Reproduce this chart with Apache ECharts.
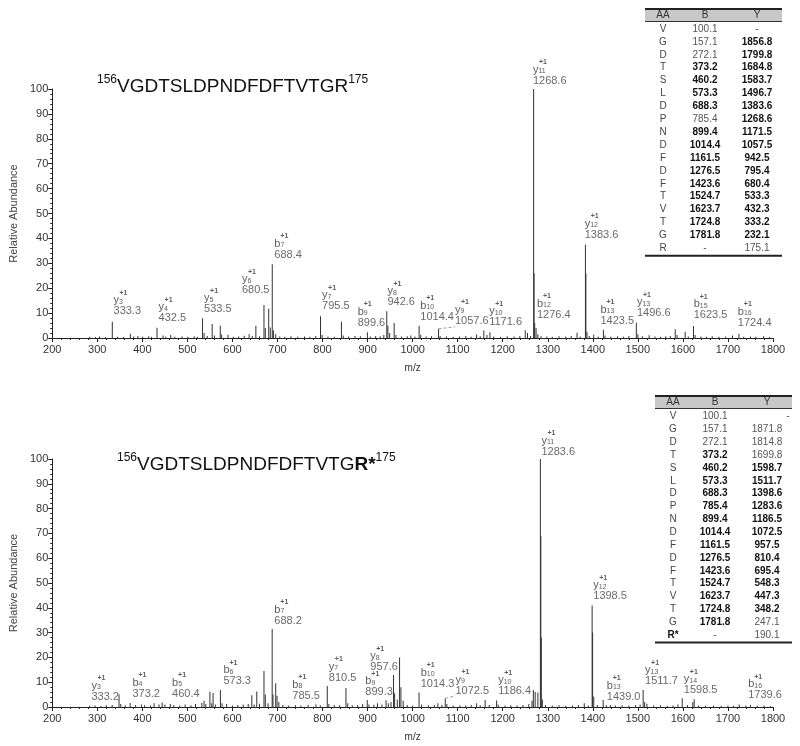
<!DOCTYPE html>
<html lang="en">
<head>
<meta charset="UTF-8">
<title>MS/MS spectra VGDTSLDPNDFDFTVTGR</title>
<script src="https://cdn.jsdelivr.net/npm/echarts@6/dist/echarts.min.js"></script>
<style>
  html, body { margin: 0; padding: 0; background: #fff; }
  #chart { width: 800px; height: 746px; }
</style>
</head>
<body>
<div id="chart"></div>
<script>
// ---- spectrum 1 (unmodified peptide) : [m/z, relative abundance]
var topPeaks = [
  [283,0.5],[296,0.4],[305,0.6],[318,0.4],[333.3,6.5],[345,0.5],[358,0.4],[373.4,1.7],[381,0.6],[390,0.8],
  [401,0.5],[414,0.7],[420,0.5],[432.5,4.1],[446,1.0],[452,0.6],[463,1.2],[472,0.5],[488,0.6],[501,0.5],
  [515,0.7],[522,0.5],[533.5,7.9],[537,2.0],[544,0.8],[555,5.6],[560,1.0],[573,4.9],[576,1.4],[590,1.3],
  [602,0.5],[614,0.6],[626,0.9],[637,1.5],[644,0.8],[652,4.9],[660,0.7],[670,13.3],[673,4],[680.5,11.7],
  [684,4.2],[688.4,29.6],[691,3],[696,1.5],[705,0.6],[716,0.5],[730,0.7],[745,0.5],[760,0.6],[772,0.5],
  [785,0.8],[795.5,8.7],[799,1.2],[812,0.6],[826,0.5],[842,6.5],[846,1.0],[858,0.6],[872,0.8],[884,0.7],
  [899.6,2.3],[906,0.6],[918,0.8],[928,0.7],[936,1.2],[942.6,10.7],[945,5],[949,2],[959,6],[963,1.2],
  [975,0.6],[988,0.7],[996,1.0],[1005,0.6],[1014.4,4.9],[1018,1.3],[1030,0.6],[1042,0.7],[1057.6,3.7],[1061,0.8],
  [1075,0.6],[1090,0.5],[1104,0.6],[1118,0.8],[1130,0.5],[1142,1.4],[1150,0.7],[1158,3.0],[1165,1.2],[1171.6,2.3],
  [1180,0.6],[1195,0.5],[1210,0.7],[1225,0.6],[1238,0.8],[1250,3.1],[1255,2.0],[1262,0.8],[1268.6,100],[1269.6,26],
  [1271,6],[1274,4],[1278,1.5],[1285,0.7],[1298,0.6],[1310,0.5],[1325,0.7],[1340,0.6],[1352,0.8],[1365,2.1],
  [1372,0.6],[1383.6,37.5],[1384.6,26],[1387,2.5],[1392,0.8],[1402,1.3],[1412,0.6],[1423.5,3.3],[1427,1.0],[1440,0.6],
  [1455,0.7],[1468,0.5],[1480,0.8],[1496.6,6.1],[1500,1.5],[1510,0.7],[1525,1.1],[1538,0.6],[1550,0.5],[1562,0.7],
  [1572,0.8],[1583,3.5],[1587,1.2],[1605,2.5],[1612,0.6],[1623.5,4.8],[1627,1.2],[1640,0.6],[1652,0.5],[1665,0.7],
  [1680,0.5],[1695,0.6],[1710,1.0],[1724.4,1.7],[1735,0.5],[1750,0.6],[1762,0.5],[1779,0.7],[1792,0.4]
];
// ---- spectrum 2 (labelled R*)
var botPeaks = [
  [283,0.5],[295,0.6],[308,0.4],[320,0.7],[333,0.8],[348.2,5.1],[352,1.2],[362,0.6],[373,1.6],[385,0.8],
  [398,1.0],[405,0.7],[418,0.6],[426,1.5],[437,1.0],[444,1.8],[450,1.0],[462,1.2],[470,0.8],[483,0.6],
  [495,1.0],[508,0.7],[518,1.2],[532,1.6],[537,2.5],[541,1.2],[550,6.1],[554,1.5],[557,5.6],[562,1.0],
  [573.3,6.9],[577,1.5],[587,1.2],[600,0.6],[612,0.8],[624,1.0],[635,1.2],[643,4.7],[648,1.0],[654,6.3],
  [660,1.3],[670,14.5],[673,5],[679,1.5],[688.2,31.5],[690,5],[696,9.6],[699,4.5],[703,2],[712,0.8],
  [725,0.6],[740,0.7],[752,0.6],[768,0.8],[785.5,1.0],[795,0.7],[810.5,8.5],[814,1.2],[826,0.8],[838,0.7],
  [852,7.7],[856,1.5],[866,0.7],[878,0.8],[889,1.2],[899.3,2.8],[903,1.0],[914,0.9],[922,1.5],[932,1.0],
  [941,2.7],[946,1.5],[952,2],[957.6,12.9],[960,5.5],[966,3],[971,20],[974,8],[979,2.5],[988,0.8],
  [1000,0.6],[1014.3,5.8],[1020,1.0],[1035,0.7],[1048,0.8],[1056,1.5],[1065,0.8],[1072.5,3.5],[1076,1.2],[1090,0.6],
  [1105,0.7],[1118,0.6],[1130,0.8],[1142,1.5],[1150,0.7],[1161,2.8],[1170,0.8],[1186.4,2.6],[1190,1.0],[1205,0.6],
  [1218,0.7],[1232,0.6],[1245,0.8],[1258,1.2],[1265,2.5],[1268,6.9],[1272,6],[1278,5.8],[1283.6,100],[1284.6,69],
  [1285.6,28],[1288,3],[1295,0.8],[1310,0.6],[1325,0.7],[1340,0.5],[1355,0.6],[1368,0.8],[1381,1.5],[1390,0.6],
  [1398.5,40.9],[1399.5,30],[1402,4.2],[1410,0.8],[1423,2.8],[1430,0.7],[1439,0.8],[1450,0.6],[1465,0.7],[1480,0.6],
  [1495,0.8],[1505,1.0],[1511.7,6.9],[1515,2],[1520,1.3],[1535,0.6],[1550,0.7],[1565,0.5],[1578,0.6],[1589,1.0],
  [1598.5,3.5],[1610,0.8],[1622,2],[1625,3.1],[1635,0.6],[1650,0.5],[1668,0.6],[1685,0.5],[1700,0.6],[1712,0.5],
  [1725,1.0],[1740,0.6],[1750,0.8],[1765,0.5],[1780,0.6],[1795,0.4]
];

// ion annotations: [ion, index, m/z text, label m/z, label abundance]
var topIons = [
  ['y','3','333.3',336,8.3], ['y','4','432.5',436,5.5], ['y','5','533.5',537,9.2],
  ['y','6','680.5',621,16.8], ['b','7','688.4',693,31], ['y','7','795.5',799,10.4],
  ['b','9','899.6',878,3.6], ['y','8','942.6',944,12], ['b','10','1014.4',1017,6],
  ['y','9','1057.6',1094,4.6], ['y','10','1171.6',1170,3.9], ['y','11','1268.6',1267,101],
  ['b','12','1276.4',1276,6.9], ['y','12','1383.6',1382,39], ['b','13','1423.5',1417,4.5],
  ['y','13','1496.6',1498,7.6], ['b','15','1623.5',1624,6.8], ['b','16','1724.4',1722,3.6]
];
var botIons = [
  ['y','3','333.2',287,1.7], ['b','4','373.2',378,2.8], ['b','5','460.4',466,2.8],
  ['b','6','573.3',580,8], ['b','7','688.2',693,32.4], ['b','8','785.5',733,2.2],
  ['y','7','810.5',814,9.3], ['b','9','899.3',895,3.6], ['y','8','957.6',906,13.6],
  ['b','10','1014.3',1018,6.9], ['y','9','1072.5',1095,4.2], ['y','10','1186.4',1190,3.9],
  ['y','11','1283.6',1286,100.5], ['y','12','1398.5',1401,42.2], ['b','13','1439.0',1431,1.6],
  ['y','13','1511.7',1516,7.9], ['y','14','1598.5',1602,4.4], ['b','16','1739.6',1745,2.3]
];
var topLeader = [[1057.6,3.7],[1094,4.5]];
var botLeader = [[1072.5,3.5],[1095,4.5]];

// fragment tables
var aaTop = ['V','G','D','T','S','L','D','P','N','D','F','D','F','T','V','T','G','R'];
var bTop = ['100.1','157.1','272.1','373.2','460.2','573.3','688.3','785.4','899.4','1014.4','1161.5','1276.5','1423.6','1524.7','1623.7','1724.8','1781.8','-'];
var yTop = ['-','1856.8','1799.8','1684.8','1583.7','1496.7','1383.6','1268.6','1171.5','1057.5','942.5','795.4','680.4','533.3','432.3','333.2','232.1','175.1'];
var bTopSeen = [0,0,0,1,1,1,1,0,1,1,1,1,1,1,1,1,1,0];
var yTopSeen = [0,1,1,1,1,1,1,1,1,1,1,1,1,1,1,1,1,0];

var aaBot = ['V','G','D','T','S','L','D','P','N','D','F','D','F','T','V','T','G','R*'];
var bBot = ['100.1','157.1','272.1','373.2','460.2','573.3','688.3','785.4','899.4','1014.4','1161.5','1276.5','1423.6','1524.7','1623.7','1724.8','1781.8','-'];
var yBot = ['-','1871.8','1814.8','1699.8','1598.7','1511.7','1398.6','1283.6','1186.5','1072.5','957.5','810.4','695.4','548.3','447.3','348.2','247.1','190.1'];
var bBotSeen = [0,0,0,1,1,1,1,1,1,1,1,1,1,1,1,1,1,0];
var yBotSeen = [0,0,0,0,1,1,1,1,1,1,1,1,1,1,1,1,0,0];

var FONT = '"Liberation Sans", Arial, sans-serif';

function ionData(list) {
  return list.map(function (d) {
    return { value: [d[3], d[4]], ion: d[0], sub: d[1], mass: d[2] };
  });
}

function makeTable(left, topLine, rowTop, rowH, aa, bv, yv, bSeen, ySeen, dashX) {
  var w = 137, els = [];
  var cx = [left + 18, left + 60, left + 112];
  els.push({ type: 'rect', shape: { x: left, y: topLine, width: w, height: 12 }, style: { fill: '#c8c8c8' } });
  els.push({ type: 'line', shape: { x1: left, y1: topLine, x2: left + w, y2: topLine }, style: { stroke: '#222', lineWidth: 2 } });
  els.push({ type: 'line', shape: { x1: left, y1: topLine + 12.5, x2: left + w, y2: topLine + 12.5 }, style: { stroke: '#333', lineWidth: 1 } });
  var bottom = rowTop + rowH * (aa.length - 0.5) + 1;
  els.push({ type: 'line', shape: { x1: left, y1: bottom, x2: left + w, y2: bottom }, style: { stroke: '#222', lineWidth: 2 } });
  ['AA', 'B', 'Y'].forEach(function (h, i) {
    els.push(txt(cx[i], topLine + 6.5, h, false, '#333'));
  });
  aa.forEach(function (a, r) {
    var y = rowTop + r * rowH;
    els.push(txt(cx[0], y, a, a.length > 1, a.length > 1 ? '#111' : '#444'));
    els.push(txt(cx[1], y, bv[r], bSeen[r], bSeen[r] ? '#111' : '#555'));
    var yx = (r === 0 && dashX) ? dashX : cx[2];
    els.push(txt(yx, y, yv[r], ySeen[r], ySeen[r] ? '#111' : '#555'));
  });
  return els;
}

function txt(x, y, s, bold, color) {
  return {
    type: 'text', x: x, y: y,
    style: {
      text: s, fontSize: 10, fontFamily: FONT, fontWeight: bold ? 'bold' : 'normal', fill: color,
      align: 'center', verticalAlign: 'middle', textAlign: 'center', textVerticalAlign: 'middle'
    }
  };
}

var chart = echarts.init(document.getElementById('chart'));

var ionRich = {
  sp: { fontSize: 7, fontWeight: 'bold', lineHeight: 5, padding: [0, 0, 0, 6], color: '#333', fontFamily: FONT },
  ion: { fontSize: 11, lineHeight: 10, color: '#333', fontFamily: FONT },
  sub: { fontSize: 7, lineHeight: 8, verticalAlign: 'bottom', color: '#333', fontFamily: FONT },
  ms: { fontSize: 11, lineHeight: 12, color: '#444', fontFamily: FONT }
};

function xAxisCfg(gi) {
  return {
    gridIndex: gi, type: 'value', min: 200, max: 1800, interval: 100,
    name: 'm/z', nameLocation: 'middle', nameGap: 25,
    nameTextStyle: { fontSize: 10, color: '#333', fontFamily: FONT },
    axisLine: { show: true, onZero: false, lineStyle: { color: '#222', width: 1 } },
    axisTick: { show: true, length: 4, lineStyle: { color: '#222' } },
    minorTick: { show: true, splitNumber: 5, length: 2, lineStyle: { color: '#222' } },
    axisLabel: { fontSize: 11, color: '#333', margin: 6, fontFamily: FONT, formatter: function (v) { return String(v); } },
    splitLine: { show: false }
  };
}
function yAxisCfg(gi) {
  return {
    gridIndex: gi, type: 'value', min: 0, max: 100, interval: 10,
    name: 'Relative Abundance', nameLocation: 'middle', nameGap: 27,
    nameTextStyle: { fontSize: 11, color: '#444', fontFamily: FONT },
    axisLine: { show: true, lineStyle: { color: '#222', width: 1 } },
    axisTick: { show: true, length: 4, lineStyle: { color: '#222' } },
    minorTick: { show: true, splitNumber: 5, length: 2, lineStyle: { color: '#222' } },
    axisLabel: { fontSize: 11, color: '#333', margin: 4, fontFamily: FONT },
    splitLine: { show: false }
  };
}

function peakSeries(gi, data) {
  return {
    type: 'bar', xAxisIndex: gi, yAxisIndex: gi, data: data, barWidth: 1,
    itemStyle: { color: '#333' }, silent: true
  };
}
function labelSeries(gi, list) {
  return {
    type: 'scatter', xAxisIndex: gi, yAxisIndex: gi, data: ionData(list),
    symbolSize: 0, clip: false, silent: true,
    label: {
      show: true, position: [0, 0], align: 'left', verticalAlign: 'bottom',
      formatter: function (p) {
        return '{sp|+1}\n{ion|' + p.data.ion + '}{sub|' + p.data.sub + '}\n{ms|' + p.data.mass + '}';
      },
      rich: ionRich
    }
  };
}
function leaderSeries(gi, pts) {
  return {
    type: 'line', xAxisIndex: gi, yAxisIndex: gi, data: pts, symbol: 'none', silent: true,
    lineStyle: { color: '#999', width: 1, type: [3, 2] }
  };
}

var titleRich = {
  sup: { fontSize: 12, lineHeight: 14, verticalAlign: 'top', fill: '#111', color: '#111', fontFamily: FONT },
  main: { fontSize: 19, lineHeight: 22, verticalAlign: 'bottom', fill: '#111', color: '#111', fontFamily: FONT },
  bold: { fontSize: 19, lineHeight: 22, fontWeight: 'bold', verticalAlign: 'bottom', fill: '#111', color: '#111', fontFamily: FONT }
};

var option = {
  animation: false,
  textStyle: { fontFamily: FONT },
  grid: [
    { left: 43, top: 89, width: 730, height: 249 },
    { left: 43, top: 459, width: 730, height: 248 }
  ],
  xAxis: [xAxisCfg(0), xAxisCfg(1)],
  yAxis: [yAxisCfg(0), yAxisCfg(1)],
  series: [
    peakSeries(0, topPeaks), leaderSeries(0, topLeader), labelSeries(0, topIons),
    peakSeries(1, botPeaks), leaderSeries(1, botLeader), labelSeries(1, botIons)
  ],
  graphic: [].concat(
    [{
      type: 'text', x: 97, y: 74,
      style: { text: '{sup|156}{main|VGDTSLDPNDFDFTVTGR}{sup|175}', rich: titleRich, fontFamily: FONT }
    }, {
      type: 'text', x: 117, y: 452,
      style: { text: '{sup|156}{main|VGDTSLDPNDFDFTVTG}{bold|R*}{sup|175}', rich: titleRich, fontFamily: FONT }
    }],
    makeTable(645, 9, 29, 12.9, aaTop, bTop, yTop, bTopSeen, yTopSeen, null),
    makeTable(655, 396, 416.7, 12.84, aaBot, bBot, yBot, bBotSeen, yBotSeen, 788)
  )
};

chart.setOption(option);
</script>
</body>
</html>
